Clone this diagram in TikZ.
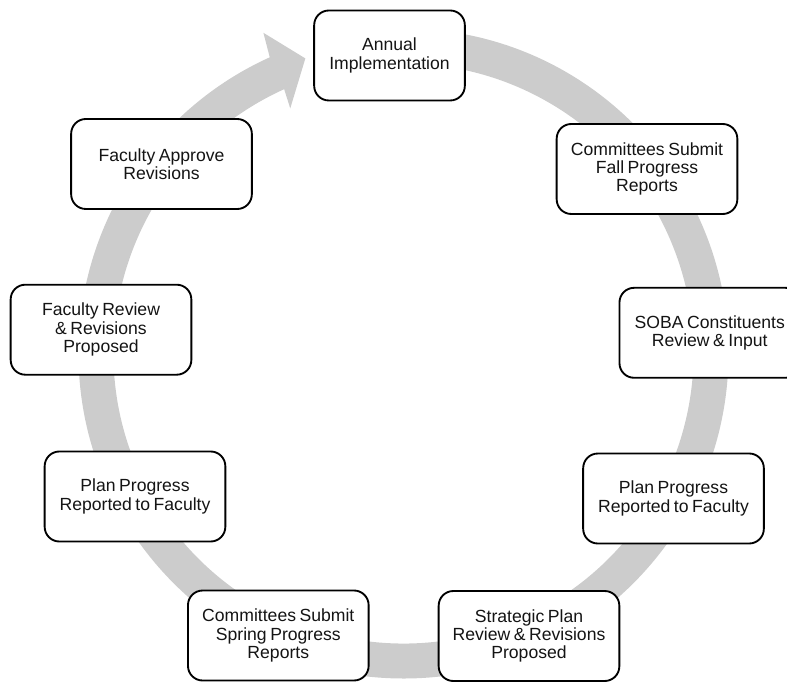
\documentclass[tikz,border=0pt]{standalone}
\usepackage{fontspec}
\setmainfont{Liberation Sans}
\definecolor{ringgray}{RGB}{204,204,204}
\definecolor{txt}{RGB}{20,20,20}
\newcommand\myboxfont{\fontsize{13.2}{13.7}\selectfont\spaceskip=0.2em plus 0.05em\relax}
\begin{document}
\begin{tikzpicture}[x=0.75pt,y=0.75pt,
  box/.style={draw=black, line width=1.4pt, fill=white, rounded corners=11pt,
    minimum width=135.5pt, minimum height=67.5pt, align=center, inner sep=0pt,
    text=txt, font=\myboxfont}]
\clip (0,0) rectangle (787,682);
% circular arrow ring
\begin{scope}[shift={(403.5,328.5)}]
  \fill[ringgray] (88:325) arc[start angle=88, end angle=-245.7, radius=325]
    -- (113.6:350) -- (108.4:311) -- (114.8:270) -- (114.3:290)
    arc[start angle=-245.7, end angle=88, radius=290] -- cycle;
\end{scope}
% boxes
\node[box, minimum width=113pt] (annual) at (389.5,626.5) {Annual\\Implementation};
\node[box] (fall) at (647,513) {Committees Submit\\Fall Progress\\Reports};
\node[box] (soba) at (709.8,349.2) {SOBA Constituents\\Review \& Input};
\node[box] (planr) at (673.5,183.5) {Plan Progress\\Reported to Faculty};
\node[box] (strat) at (529,46) {Strategic Plan\\Review \& Revisions\\Proposed};
\node[box] (spring) at (278.3,46.5) {Committees Submit\\Spring Progress\\Reports};
\node[box] (planl) at (135,185.5) {Plan Progress\\Reported to Faculty};
\node[box] (frev) at (101,352.3) {Faculty Review\\\& Revisions\\Proposed};
\node[box] (fapp) at (161.5,518) {Faculty Approve\\Revisions};
\end{tikzpicture}
\end{document}
